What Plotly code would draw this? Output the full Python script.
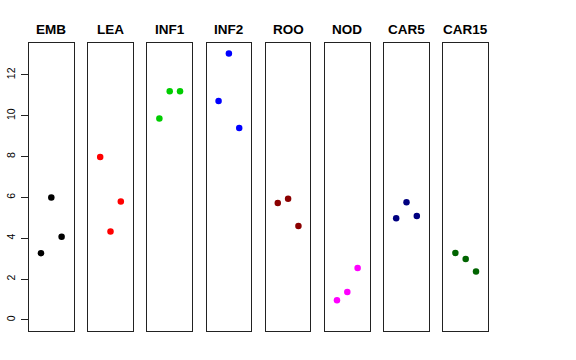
import plotly.graph_objects as go

tissues = ["EMB", "LEA", "INF1", "INF2", "ROO", "NOD", "CAR5", "CAR15"]
colors = ["#000000", "#FF0000", "#00CD00", "#0000FF", "#8B0000", "#FF00FF", "#000080", "#006400"]
reps = [1, 2, 3]
values = {
    "EMB":   [3.27, 5.99, 4.08],
    "LEA":   [7.98, 4.33, 5.80],
    "INF1":  [9.86, 11.20, 11.20],
    "INF2":  [10.72, 13.04, 9.40],
    "ROO":   [5.73, 5.93, 4.60],
    "NOD":   [0.96, 1.37, 2.55],
    "CAR5":  [4.98, 5.76, 5.09],
    "CAR15": [3.28, 2.99, 2.37],
}
y_ticks = [0, 2, 4, 6, 8, 10, 12]

W, H = 576, 360
lefts = [29, 88.2, 147.4, 206.6, 265.8, 325.0, 384.2, 443.4]
pw = 44.6
top, bottom = 43, 331

def fx(px):
    return px / W

def fy(py):
    return 1 - py / H

fig = go.Figure()
for i, t in enumerate(tissues):
    n = "" if i == 0 else str(i + 1)
    fig.add_trace(go.Scatter(
        x=reps, y=values[t], mode="markers",
        marker=dict(color=colors[i], size=6.5),
        xaxis="x" + n, yaxis="y" + n, showlegend=False, hoverinfo="skip"))
    fig.layout["xaxis" + n] = dict(
        domain=[fx(lefts[i]), fx(lefts[i] + pw)], range=[-0.16, 4.16],
        showgrid=False, zeroline=False, showticklabels=False, ticks="",
        showline=True, mirror=True, linecolor="#222", linewidth=1,
        anchor="y" + n, fixedrange=True, automargin=False)
    ya = dict(
        domain=[fy(bottom), fy(top)], range=[-0.54, 13.56],
        showgrid=False, zeroline=False, showline=True, mirror=True,
        linecolor="#222", linewidth=1, anchor="x" + n, fixedrange=True,
        automargin=False)
    if i == 0:
        ya.update(tickvals=y_ticks, ticktext=[str(v) for v in y_ticks],
                  ticks="outside", ticklen=7, tickcolor="#222", tickwidth=1,
                  tickangle=-90, tickfont=dict(size=10.5, color="#000"),
                  ticklabelstandoff=2)
    else:
        ya.update(showticklabels=False, ticks="")
    fig.layout["yaxis" + n] = ya
    fig.add_annotation(
        text="<b>" + t + "</b>", x=fx(lefts[i] + pw / 2), y=fy(29),
        xref="paper", yref="paper", showarrow=False,
        font=dict(size=13.5, color="#000", family="Liberation Sans, Arial, sans-serif"),
        xanchor="center", yanchor="middle")

fig.update_layout(
    width=W, height=H, margin=dict(l=0, r=0, t=0, b=0, autoexpand=False),
    paper_bgcolor="white", plot_bgcolor="white",
    font=dict(family="Liberation Sans, Arial, sans-serif"))

fig.write_html("out.html", config={"displayModeBar": False},
               post_script="document.body.style.margin='0';document.body.style.overflow='hidden';")
